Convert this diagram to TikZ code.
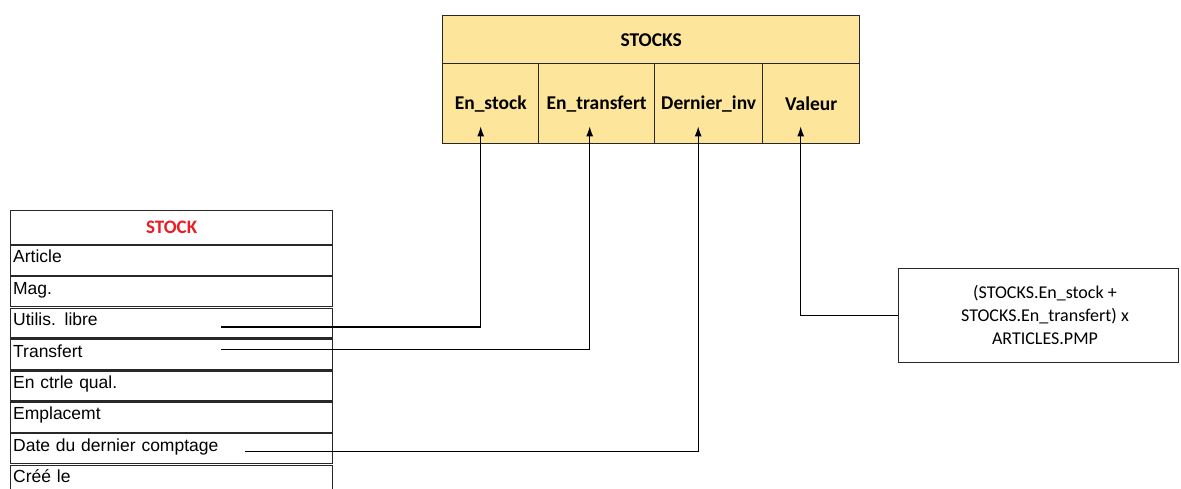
\documentclass[tikz,border=0pt]{standalone}
\usepackage{fontspec}
\setmainfont{Liberation Sans}
\newfontfamily\calibrifont{Carlito}
\usetikzlibrary{arrows.meta}
\definecolor{tabfill}{RGB}{253,229,155}
\definecolor{tabline}{RGB}{40,40,40}
\definecolor{titlered}{RGB}{237,28,36}
\begin{document}
\begin{tikzpicture}[x=1pt,y=-1pt,
  cell/.style={draw=tabline,line width=1.4pt,fill=tabfill,inner sep=0pt,anchor=north west,
    font=\calibrifont\bfseries\fontsize{19.5}{23}\selectfont},
  rowbox/.style={draw=tabline,line width=1.3pt,inner xsep=2.5pt,inner ysep=0pt,anchor=north west,
    minimum width=322pt,minimum height=29.9pt,text width=317pt,align=left,
    text height=12pt,text depth=7pt,font=\fontsize{17.5}{20}\selectfont},
  headbox/.style={draw=tabline,line width=1.3pt,inner sep=0pt,anchor=north west,
    minimum width=322pt,minimum height=34pt,
    font=\calibrifont\bfseries\fontsize{19}{22}\selectfont,text=titlered},
  link/.style={draw=black,line width=1.2pt},
  arrowlink/.style={link,-{Latex[length=10pt,width=7pt]}}]
\clip (0,0) rectangle (1181,488);
\fill[white] (0,0) rectangle (1181,488);

% STOCKS table
\node[cell,minimum width=417pt,minimum height=48pt] (stocks) at (442,15) {STOCKS};
\node[cell,minimum width=96pt,minimum height=80pt] (enstock) at (442,63) {En\_stock};
\node[cell,minimum width=116pt,minimum height=80pt] (entransfert) at (538,63) {En\_transfert};
\node[cell,minimum width=108pt,minimum height=80pt] (dernierinv) at (654,63) {Dernier\_inv};
\node[cell,minimum width=97pt,minimum height=80pt] (valeur) at (762,63) {Valeur};

% STOCK table
\node[headbox] (stock) at (10,210) {STOCK};
\node[rowbox] (article) at (10,244.7) {Article};
\node[rowbox] (mag) at (10,276.1) {Mag.};
\node[rowbox] (utilis) at (10,307.5) {Utilis. libre};
\node[rowbox] (transfert) at (10,338.9) {Transfert};
\node[rowbox] (ctrle) at (10,370.3) {En ctrle qual.};
\node[rowbox] (emplacemt) at (10,401.7) {Emplacemt};
\node[rowbox] (date) at (10,433.1) {Date du dernier comptage};
\node[rowbox] (cree) at (10,464.5) {Créé le};

% formula box
\node[draw=tabline,line width=1.3pt,anchor=north west,minimum width=280pt,minimum height=94pt] (formula) at (898,268) {};
\node[align=center,inner sep=0pt,font=\calibrifont\fontsize{18}{23}\selectfont] (formulatext) at (1045,315)
  {(STOCKS.En\_stock +\\STOCKS.En\_transfert) x\\ARTICLES.PMP};

% connectors
\coordinate (fromutilis) at (221,327);
\coordinate (fromtransfert) at (221,349.5);
\coordinate (fromdate) at (245,451.7);
\draw[arrowlink] (fromutilis) -| ([xshift=-10pt,yshift=18pt]enstock.south);
\draw[arrowlink] (fromtransfert) -| ([xshift=-7pt,yshift=18pt]entransfert.south);
\draw[arrowlink] (fromdate) -| ([xshift=-10.5pt,yshift=18pt]dernierinv.south);
\draw[arrowlink] (formula.west) -| ([xshift=-10.5pt,yshift=18pt]valeur.south);
\end{tikzpicture}
\end{document}
